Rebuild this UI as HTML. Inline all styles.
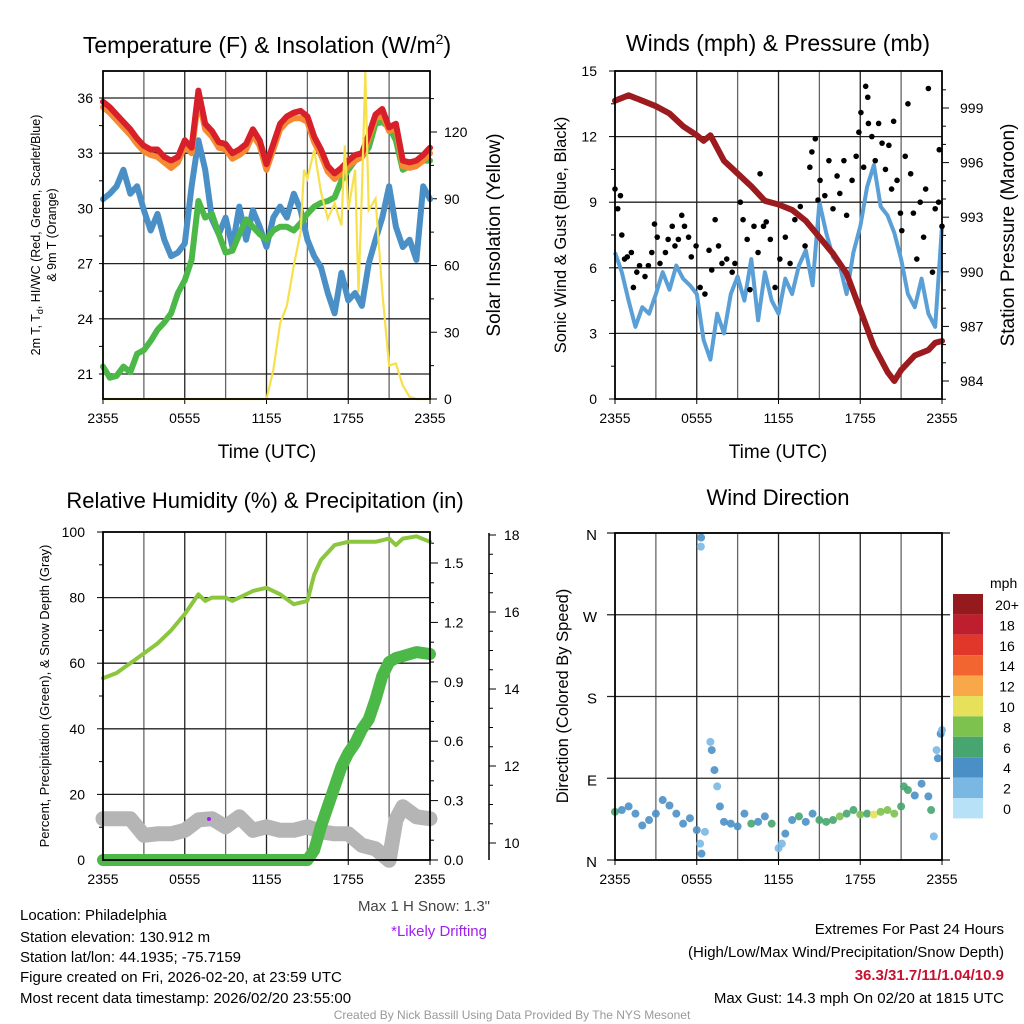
<!DOCTYPE html>
<html><head><meta charset="utf-8"><style>
body{margin:0;background:#fff}
svg{display:block;font-family:"Liberation Sans",sans-serif}
</style></head><body>
<svg id="c" width="1024" height="1024" viewBox="0 0 1024 1024">
<g id="g1"></g>
<g id="g2"></g>
<g id="g3"></g>
<g id="g4"></g>
<g id="txt" font-size="15">
<text x="20" y="920">Location: Philadelphia</text>
<text x="20" y="942">Station elevation: 130.912 m</text>
<text x="20" y="962">Station lat/lon: 44.1935; -75.7159</text>
<text x="20" y="982">Figure created on Fri, 2026-02-20, at 23:59 UTC</text>
<text x="20" y="1003">Most recent data timestamp: 2026/02/20 23:55:00</text>
<text x="490" y="911" text-anchor="end" fill="#444">Max 1 H Snow: 1.3"</text>
<text x="487" y="936" text-anchor="end" fill="#a020f0">*Likely Drifting</text>
<text x="1004" y="934" text-anchor="end">Extremes For Past 24 Hours</text>
<text x="1004" y="957" text-anchor="end">(High/Low/Max Wind/Precipitation/Snow Depth)</text>
<text x="1004" y="980" text-anchor="end" fill="#c8102e" font-weight="bold">36.3/31.7/11/1.04/10.9</text>
<text x="1004" y="1003" text-anchor="end">Max Gust: 14.3 mph On 02/20 at 1815 UTC</text>
<text x="512" y="1019" text-anchor="middle" fill="#999" font-size="12">Created By Nick Bassill Using Data Provided By The NYS Mesonet</text>
</g>
</svg>
<script>
const xTickLabels=["2355","0555","1155","1755","2355"];
const halfHours=[0,0.5,1,1.5,2,2.5,3,3.5,4,4.5,5,5.5,6,6.5,7,7.5,8,8.5,9,9.5,10,10.5,11,11.5,12,12.5,13,13.5,14,14.5,15,15.5,16,16.5,17,17.5,18,18.5,19,19.5,20,20.5,21,21.5,22,22.5,23,23.5,24];
const tempRed=[35.8,35.5,35.1,34.7,34.3,33.8,33.4,33.2,33.2,32.8,32.6,32.8,33.7,33.3,36.4,34.6,34.2,33.6,33.5,33.0,33.2,33.5,34.3,33.7,32.4,33.5,34.6,35.0,35.2,35.3,35.0,33.9,33.2,32.3,31.9,32.2,32.6,32.9,33.0,34.0,35.1,35.4,34.4,34.6,32.6,32.5,32.6,32.9,33.3];
const tempOrange=[35.5,35.2,34.8,34.4,34.0,33.5,33.1,32.9,32.8,32.5,32.2,32.5,33.4,33.0,36.0,34.3,33.9,33.3,33.2,32.7,32.9,33.2,34.0,33.4,32.1,33.2,34.3,34.7,34.9,34.9,34.7,33.6,32.9,32.0,31.6,31.9,32.3,32.6,32.8,33.8,34.9,35.1,34.2,34.4,32.3,32.2,32.3,32.6,33.0];
const tempGreen=[21.4,20.8,20.9,21.4,21.1,22.1,22.3,22.8,23.4,23.8,24.3,25.4,26.1,27.2,30.4,29.5,29.7,28.6,27.6,27.7,28.6,29.4,29.0,28.6,28.3,28.8,29.0,29.0,28.8,29.2,29.7,30.1,30.3,30.4,30.6,31.5,32.1,32.6,32.8,33.3,34.6,34.7,34.4,33.7,32.1,32.3,32.4,32.6,32.6];
const tempBlue=[30.5,30.8,31.2,32.1,30.8,31.2,29.9,28.8,29.7,28.3,27.4,27.6,28.1,31.2,33.7,32.1,29.4,28.6,29.5,27.9,30.1,28.3,29.9,29.0,27.9,29.5,30.1,29.5,30.8,29.9,28.3,27.4,26.8,25.4,24.3,26.5,25.0,25.4,24.7,27.0,28.3,29.5,31.2,29.0,27.9,28.3,27.2,31.2,30.5];
const solarT=[0,12,12.5,13,13.5,14,14.5,14.75,15,15.5,16,16.5,17,17.5,17.75,18,18.5,18.75,19,19.25,19.5,20,20.5,21,21.5,22,22.5,23,24];
const solarV=[0,0,13,34,42,60,75,103,99,112,93,81,88,78,114,85,103,48,93,147,85,90,48,15,16,6,1,0,0];
const windSpeed=[6.7,5.8,4.5,3.3,4.2,3.9,4.8,5.8,5.0,6.1,5.5,5.2,4.8,2.7,1.8,3.9,3.0,4.8,5.6,4.5,6.4,3.6,5.8,4.5,3.9,5.5,4.8,6.1,6.8,5.2,9.0,7.6,6.5,6.1,4.8,6.7,7.9,9.7,10.7,8.8,8.4,7.6,6.4,4.8,4.2,5.5,3.9,3.3,7.9];
const gustT=[0,0.2,0.4,0.5,0.7,0.9,1.2,1.35,1.6,1.8,2.2,2.45,2.7,2.9,3.1,3.3,3.7,3.9,4.2,4.4,4.65,4.9,5.1,5.4,5.6,5.95,6.25,6.6,6.9,7.1,7.35,7.6,7.85,8.2,8.6,8.8,9.2,9.4,9.7,9.9,10.2,10.5,10.65,10.9,11.1,11.4,11.75,12.1,12.5,12.85,13.2,13.6,13.95,14.3,14.45,14.7,14.9,15.05,15.4,15.7,16.0,16.3,16.5,16.8,17.0,17.4,17.7,17.9,18.05,18.25,18.4,18.55,18.6,18.85,19.1,19.35,19.6,19.85,20.1,20.3,20.45,20.7,20.95,21.05,21.3,21.5,21.7,21.9,22.15,22.4,22.65,22.8,23.0,23.3,23.5,23.75,23.8,24];
const gustV=[9.6,8.7,9.3,7.5,6.4,6.5,6.7,5.1,5.8,6.1,5.6,6.1,6.7,8.0,7.4,6.2,6.7,7.3,7.9,7.0,7.3,8.4,7.9,7.4,6.5,7.0,5.1,4.8,6.8,5.9,8.2,7.0,6.2,6.4,5.8,6.2,9.0,8.2,7.3,5.0,7.9,6.7,10.3,7.9,8.1,7.3,5.1,6.4,7.4,6.2,8.2,8.8,7.0,10.6,11.3,11.9,9.1,10.0,9.3,10.9,8.7,10.2,9.4,10.9,8.4,10.0,11.1,12.2,13.1,10.6,14.3,13.8,12.6,12.0,10.9,12.6,11.7,10.5,11.6,9.6,12.7,10.0,8.5,7.7,11.1,13.5,10.3,8.5,6.4,9.0,7.4,9.6,14.2,5.8,8.7,9.0,11.4,7.9];
const presT=[0,1,2,3,4,5,6,6.5,7,8,9,10,11,12,13,14,15,16,17,18,19,20,20.5,21,22,23,23.5,24];
const presV=[999.4,999.7,999.4,999.1,998.7,998.0,997.5,997.2,997.5,996.1,995.4,994.7,993.9,993.7,993.4,992.8,991.9,991.0,989.9,987.9,985.9,984.5,984.0,984.6,985.4,985.7,986.1,986.2];
const rhT=[0,1,2,3,4,5,6,6.5,7,7.5,8,9,9.5,10,11,12,13,14,15,15.5,16,17,18,19,20,21,21.5,22,23,24];
const rhV=[55.4,57,60,63,66,70,75,78,81,79,80,80,79,80,82,83,81,78,79,87,91.5,96,97,97,97,98,96,98,98.7,97];
const precipT=[0,15,15.5,16,16.5,17,17.5,18,18.5,19,19.5,20,20.5,21,21.5,22,23,24];
const precipV=[0,0,0.05,0.17,0.27,0.37,0.47,0.54,0.59,0.66,0.71,0.81,0.93,1.0,1.02,1.03,1.05,1.04];
const snowT=[0,1,2,3,4,5,6,7,8,9,10,11,12,13,14,15,16,17,18,19,20,21,21.5,22,23,24];
const snowV=[10.63,10.63,10.63,10.2,10.24,10.24,10.33,10.6,10.63,10.42,10.68,10.33,10.42,10.33,10.33,10.42,10.29,10.24,10.24,9.94,9.85,9.55,10.6,10.94,10.68,10.63];
const dirT=[0,0.5,1,1.5,2,2.5,3,3.5,4,4.5,5,5.5,6,6.25,6.3,6.32,6.35,6.6,7.0,7.1,7.3,7.5,7.7,8,8.5,9,9.5,10,10.5,11,11.5,12,12.25,12.5,13,13.5,14,14.5,15,15.5,16,16.5,17,17.5,18,18.5,19,19.5,20,20.5,21,21.2,21.5,22,22.5,23,23.2,23.4,23.6,23.7,23.9,24];
const dirV=[53,55,59,51,38,44,51,66,60,51,40,46,33,18,345,355,7,31,130,121,99,81,59,42,40,37,51,40,42,48,40,13,18,29,44,48,42,51,44,42,44,48,51,55,50,51,50,53,55,51,59,81,77,71,84,70,55,26,121,112,139,143];
const dirSpd=[6,5,5,4,4,5,4,5,5,4,4,5,4,3,3,4,4,3,3,4,4,3,4,4,5,5,4,6,5,4,6,3,3,4,5,6,5,5,7,7,6,8,6,7,8,7,10,8,9,8,7,6,6,5,5,4,7,3,3,4,5,3];
const cbLabels=["20+","18","16","14","12","10","8","6","4","2","0"];
const cbColors=["#951a1d","#bf1e2e","#e0372a","#f26430","#f9a849","#e7e05a","#7dc14f","#47a570","#4a90c6","#7ab8e3","#b6e1f7"];

const NS="http://www.w3.org/2000/svg";
function mk(parent,tag,attrs){const e=document.createElementNS(NS,tag);for(const k in attrs)e.setAttribute(k,attrs[k]);parent.appendChild(e);return e;}
function txt(parent,x,y,s,attrs){const e=mk(parent,'text',Object.assign({x:x,y:y},attrs||{}));e.textContent=s;return e;}
function lin(d,r){return v=>r[0]+(v-d[0])/(d[1]-d[0])*(r[1]-r[0]);}
function pathD(xs,ys,fx,fy){return xs.map((t,i)=>(i?'L':'M')+fx(t).toFixed(1)+','+fy(ys[i]).toFixed(1)).join('');}
function frame(g,L,R,T,B,xFn){
  for(let h=3;h<24;h+=3){const l=mk(g,'line',{x1:xFn(h),x2:xFn(h),y1:T,y2:B,stroke:(h%6?'#666':'#222'),'stroke-width':1.3});
    }
  xTickLabels.forEach((s,i)=>{const x=xFn(i*6);mk(g,'line',{x1:x,x2:x,y1:B,y2:B+5,stroke:'#000'});
    const t=txt(g,x,B+24,s,{'text-anchor':'middle','font-size':14});
    });
}
function border(g,L,R,T,B){const r=mk(g,'rect',{x:L,y:T,width:R-L,height:B-T,fill:'none',stroke:'#000','stroke-width':1.8});
  }

// ---------- Panel 1 ----------
(function(){
const g=document.getElementById('g1');const L=103,R=430,T=71,B=399;
const x=lin([0,24],[L,R]);const y=lin([21,36],[374,98]);const ys=lin([0,120],[399,132]);
frame(g,L,R,T,B,x);
[21,24,27,30,33,36].forEach(v=>{const l=mk(g,'line',{x1:L,x2:R,y1:y(v),y2:y(v),stroke:'#222','stroke-width':1.3});
  
  const t=txt(g,L-10,y(v)+5,String(v),{'text-anchor':'end','font-size':14});
  });
for(let v=21;v<=37;v+=1.5)mk(g,'line',{x1:L-4,x2:L,y1:y(v),y2:y(v),stroke:'#000'});
for(let v=0;v<=135;v+=15)mk(g,'line',{x1:R,x2:R+(v%30?4:7),y1:ys(v),y2:ys(v),stroke:'#000'});
[0,30,60,90,120].forEach(v=>{const t=txt(g,R+14,ys(v)+5,String(v),{'font-size':14});
  });
const series=[[halfHours,tempBlue,'#4a90c6',6,'blue-hiwc-line'],[halfHours,tempGreen,'#4cb848',6,'green-dewpoint-line'],[halfHours,tempOrange,'#f58a32',6,'orange-9m-temp-line'],[halfHours,tempRed,'#d7202a',6,'red-2m-temp-line']];
series.forEach(s=>{const p=mk(g,'path',{d:pathD(s[0],s[1],x,y),fill:'none',stroke:s[2],'stroke-width':s[3],'stroke-linejoin':'round','stroke-linecap':'round'});
  });
const sp=mk(g,'path',{d:pathD(solarT,solarV,x,ys),fill:'none',stroke:'#f7e04b','stroke-width':2.2});

border(g,L,R,T,B);
const t1=txt(g,267,53,'Temperature (F) & Insolation (W/m',{'text-anchor':'middle','font-size':23});
const sup=mk(t1,'tspan',{dy:-9,'font-size':14});sup.textContent='2';const cl=mk(t1,'tspan',{dy:9});cl.textContent=')';

const xl=txt(g,267,458,'Time (UTC)',{'text-anchor':'middle','font-size':19});

const yl=txt(g,0,0,'2m T, T',{'text-anchor':'middle','font-size':12.5,transform:'translate(40,235) rotate(-90)'});
const sub=mk(yl,'tspan',{dy:3,'font-size':9});sub.textContent='d';const rest=mk(yl,'tspan',{dy:-3});rest.textContent=', HI/WC (Red, Green, Scarlet/Blue)';

const yl2=txt(g,0,0,'& 9m T (Orange)',{'text-anchor':'middle','font-size':12.5,transform:'translate(56,235) rotate(-90)'});

const yr=txt(g,0,0,'Solar Insolation (Yellow)',{'text-anchor':'middle','font-size':19,transform:'translate(500,235) rotate(-90)'});

})();

// ---------- Panel 2 ----------
(function(){
const g=document.getElementById('g2');const L=615,R=942,T=71,B=399;
const x=lin([0,24],[L,R]);const y=lin([0,15],[399,71]);const yp=lin([984,999],[381,108]);
frame(g,L,R,T,B,x);
[0,3,6,9,12,15].forEach(v=>{if(v>0&&v<15){const l=mk(g,'line',{x1:L,x2:R,y1:y(v),y2:y(v),stroke:'#222','stroke-width':1.3});
  }
  mk(g,'line',{x1:L-6,x2:L,y1:y(v),y2:y(v),stroke:'#000'});
  const t=txt(g,L-18,y(v)+5,String(v),{'text-anchor':'end','font-size':14});
  });
for(let v=1.5;v<15;v+=3)mk(g,'line',{x1:L-4,x2:L,y1:y(v),y2:y(v),stroke:'#000'});
for(let v=983;v<=1000;v+=1)mk(g,'line',{x1:R,x2:R+((v-984)%3?4:7),y1:yp(v),y2:yp(v),stroke:'#000'});
[984,987,990,993,996,999].forEach(v=>{const t=txt(g,R+18,yp(v)+5,String(v),{'font-size':14});
  });
const wp=mk(g,'path',{d:pathD(halfHours,windSpeed,x,y),fill:'none',stroke:'#5a9fd6','stroke-width':4,'stroke-linejoin':'round'});

const pp=mk(g,'path',{d:pathD(presT,presV,x,yp),fill:'none',stroke:'#9b1b1e','stroke-width':6,'stroke-linejoin':'round','stroke-linecap':'round'});

gustT.forEach((t,i)=>{const c=mk(g,'circle',{cx:x(t),cy:y(gustV[i]),r:2.8,fill:'#000'});
  });
border(g,L,R,T,B);
const t1=txt(g,778,51,'Winds (mph) & Pressure (mb)',{'text-anchor':'middle','font-size':23});

const xl=txt(g,778,458,'Time (UTC)',{'text-anchor':'middle','font-size':19});

const yl=txt(g,0,0,'Sonic Wind & Gust (Blue, Black)',{'text-anchor':'middle','font-size':16.5,transform:'translate(566,235) rotate(-90)'});

const yr=txt(g,0,0,'Station Pressure (Maroon)',{'text-anchor':'middle','font-size':19,transform:'translate(1014,235) rotate(-90)'});

})();

// ---------- Panel 3 ----------
(function(){
const g=document.getElementById('g3');const L=103,R=430,T=532,B=860;
const x=lin([0,24],[L,R]);const y=lin([0,100],[860,532]);const yr=lin([0,1.5],[860,563]);const ysn=lin([10,18],[843,535]);
frame(g,L,R,T,B,x);
[0,20,40,60,80,100].forEach(v=>{if(v>0&&v<100){const l=mk(g,'line',{x1:L,x2:R,y1:y(v),y2:y(v),stroke:'#222','stroke-width':1.3});
  }
  mk(g,'line',{x1:L-6,x2:L,y1:y(v),y2:y(v),stroke:'#000'});
  const t=txt(g,L-18,y(v)+5,String(v),{'text-anchor':'end','font-size':14});
  });
for(let v=10;v<100;v+=20)mk(g,'line',{x1:L-4,x2:L,y1:y(v),y2:y(v),stroke:'#000'});
for(let v=0;v<=1.65;v+=0.1)mk(g,'line',{x1:R,x2:R+(Math.round(v*10)%3?4:8),y1:yr(v),y2:yr(v),stroke:'#000'});
['0.0','0.3','0.6','0.9','1.2','1.5'].forEach(s=>{const t=txt(g,R+14,yr(+s)+5,s,{'font-size':14});
  });
const sa=mk(g,'line',{x1:489,x2:489,y1:533,y2:860,stroke:'#000','stroke-width':1.5});

for(let v=10;v<=18;v+=0.5)mk(g,'line',{x1:489,x2:489+(v%2?4:7),y1:ysn(v),y2:ysn(v),stroke:'#000'});
[10,12,14,16,18].forEach(v=>{const t=txt(g,504,ysn(v)+5,String(v),{'font-size':14});
  });
const sn=mk(g,'path',{d:pathD(snowT,snowV,x,ysn),fill:'none',stroke:'#b5b5b5','stroke-width':15,'stroke-linejoin':'round','stroke-linecap':'round'});

const pr=mk(g,'path',{d:pathD(precipT,precipV,x,yr),fill:'none',stroke:'#4cb848','stroke-width':12,'stroke-linejoin':'round','stroke-linecap':'round'});

const rh=mk(g,'path',{d:pathD(rhT,rhV,x,y),fill:'none',stroke:'#8cc63f','stroke-width':4,'stroke-linejoin':'round','stroke-linecap':'round'});

const pd=mk(g,'circle',{cx:209,cy:819,r:2,fill:'#a020f0'});

border(g,L,R,T,B);
const t1=txt(g,265,508,'Relative Humidity (%) & Precipitation (in)',{'text-anchor':'middle','font-size':22});

const yl=txt(g,0,0,'Percent, Precipitation (Green), & Snow Depth (Gray)',{'text-anchor':'middle','font-size':13,transform:'translate(49,696) rotate(-90)'});

})();

// ---------- Panel 4 ----------
(function(){
const g=document.getElementById('g4');const L=615,R=942,T=533,B=860;
const x=lin([0,24],[L,R]);const y=lin([0,360],[860,533]);
frame(g,L,R,T,B,x);
[['N',360],['W',270],['S',180],['E',90],['N',0]].forEach(a=>{const l=mk(g,'line',{x1:L-8,x2:R+8,y1:y(a[1]),y2:y(a[1]),stroke:'#222','stroke-width':1.3});
  
  const t=txt(g,L-18,y(a[1])+7,a[0],{'text-anchor':'end','font-size':15});
  });
function col(s){const i=Math.min(10,Math.floor(s/2));return cbColors[10-i];}
dirT.forEach((t,i)=>{const c=mk(g,'circle',{cx:x(t),cy:y(dirV[i]),r:4,fill:col(dirSpd[i]),'fill-opacity':0.9});
  });
border(g,L,R,T,B);
const t1=txt(g,778,505,'Wind Direction',{'text-anchor':'middle','font-size':22});

const yl=txt(g,0,0,'Direction (Colored By Speed)',{'text-anchor':'middle','font-size':16.5,transform:'translate(568,696) rotate(-90)'});

const cb=mk(g,'g',{});
const mt=txt(cb,990,588,'mph',{'font-size':14});
cbColors.forEach((c,i)=>{const yy=594+i*20.4;const r=mk(cb,'rect',{x:953,y:yy,width:30,height:20.4,fill:c});
  
  const t=txt(cb,1007,yy+16,cbLabels[i],{'text-anchor':'middle','font-size':14});
  });
})();
</script>
</body></html>
